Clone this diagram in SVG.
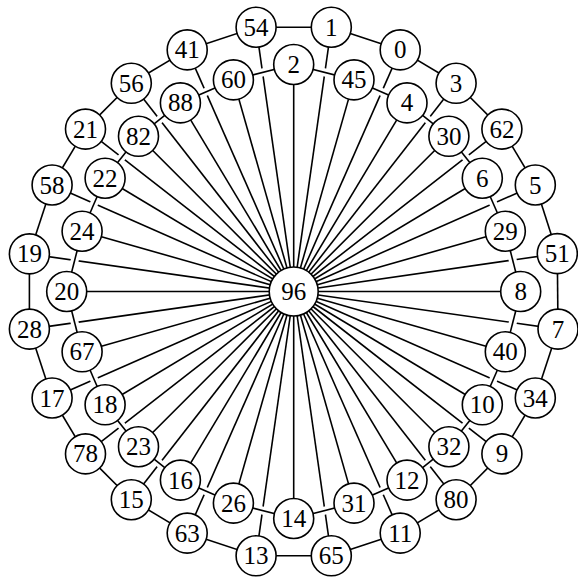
<svg xmlns="http://www.w3.org/2000/svg" width="578" height="577" viewBox="0 0 578 577">
<style>
.e{stroke:#000;stroke-width:1.6;fill:none}
.halo{stroke:#fff;stroke-width:8;fill:none;stroke-linejoin:round}
.n circle{fill:#fff;stroke:#000;stroke-width:1.6}
.n text{font-family:"Liberation Serif","DejaVu Serif",serif;font-size:25px;text-anchor:middle;fill:#000}
</style>
<rect width="578" height="577" fill="#fff"/>
<g id="connectors">
<g id="spokes">
<line class="e" x1="293.7" y1="291.5" x2="293.7" y2="64.5"/>
<line class="e" x1="293.7" y1="291.5" x2="354.0" y2="79.9"/>
<line class="e" x1="293.7" y1="291.5" x2="407.0" y2="102.9"/>
<line class="e" x1="293.7" y1="291.5" x2="448.9" y2="136.3"/>
<line class="e" x1="293.7" y1="291.5" x2="482.3" y2="178.2"/>
<line class="e" x1="293.7" y1="291.5" x2="505.3" y2="231.2"/>
<line class="e" x1="293.7" y1="291.5" x2="520.7" y2="291.5"/>
<line class="e" x1="293.7" y1="291.5" x2="505.3" y2="351.8"/>
<line class="e" x1="293.7" y1="291.5" x2="482.3" y2="404.8"/>
<line class="e" x1="293.7" y1="291.5" x2="448.9" y2="446.7"/>
<line class="e" x1="293.7" y1="291.5" x2="407.0" y2="480.1"/>
<line class="e" x1="293.7" y1="291.5" x2="354.0" y2="503.1"/>
<line class="e" x1="293.7" y1="291.5" x2="293.7" y2="518.5"/>
<line class="e" x1="293.7" y1="291.5" x2="233.4" y2="503.1"/>
<line class="e" x1="293.7" y1="291.5" x2="180.4" y2="480.1"/>
<line class="e" x1="293.7" y1="291.5" x2="138.5" y2="446.7"/>
<line class="e" x1="293.7" y1="291.5" x2="105.1" y2="404.8"/>
<line class="e" x1="293.7" y1="291.5" x2="82.1" y2="351.8"/>
<line class="e" x1="293.7" y1="291.5" x2="66.7" y2="291.5"/>
<line class="e" x1="293.7" y1="291.5" x2="82.1" y2="231.2"/>
<line class="e" x1="293.7" y1="291.5" x2="105.1" y2="178.2"/>
<line class="e" x1="293.7" y1="291.5" x2="138.5" y2="136.3"/>
<line class="e" x1="293.7" y1="291.5" x2="180.4" y2="102.9"/>
<line class="e" x1="293.7" y1="291.5" x2="233.4" y2="79.9"/>
<line class="e" x1="293.7" y1="291.5" x2="331.3" y2="27.2"/>
<line class="e" x1="293.7" y1="291.5" x2="400.2" y2="49.9"/>
<line class="e" x1="293.7" y1="291.5" x2="456.1" y2="83.3"/>
<line class="e" x1="293.7" y1="291.5" x2="501.9" y2="129.1"/>
<line class="e" x1="293.7" y1="291.5" x2="535.3" y2="185.0"/>
<line class="e" x1="293.7" y1="291.5" x2="557.3" y2="253.6"/>
<line class="e" x1="293.7" y1="291.5" x2="558.0" y2="329.1"/>
<line class="e" x1="293.7" y1="291.5" x2="535.3" y2="398.0"/>
<line class="e" x1="293.7" y1="291.5" x2="501.9" y2="453.9"/>
<line class="e" x1="293.7" y1="291.5" x2="456.1" y2="499.7"/>
<line class="e" x1="293.7" y1="291.5" x2="400.2" y2="533.1"/>
<line class="e" x1="293.7" y1="291.5" x2="331.3" y2="555.8"/>
<line class="e" x1="293.7" y1="291.5" x2="256.1" y2="555.8"/>
<line class="e" x1="293.7" y1="291.5" x2="187.2" y2="533.1"/>
<line class="e" x1="293.7" y1="291.5" x2="131.3" y2="499.7"/>
<line class="e" x1="293.7" y1="291.5" x2="85.5" y2="453.9"/>
<line class="e" x1="293.7" y1="291.5" x2="52.1" y2="398.0"/>
<line class="e" x1="293.7" y1="291.5" x2="29.4" y2="329.1"/>
<line class="e" x1="293.7" y1="291.5" x2="29.4" y2="253.9"/>
<line class="e" x1="293.7" y1="291.5" x2="52.1" y2="185.0"/>
<line class="e" x1="293.7" y1="291.5" x2="85.5" y2="129.1"/>
<line class="e" x1="293.7" y1="291.5" x2="131.3" y2="83.3"/>
<line class="e" x1="293.7" y1="291.5" x2="187.2" y2="49.9"/>
<line class="e" x1="293.7" y1="291.5" x2="256.1" y2="27.2"/>
</g>
<polygon class="halo" points="293.7,64.5 354.0,79.9 407.0,102.9 448.9,136.3 482.3,178.2 505.3,231.2 520.7,291.5 505.3,351.8 482.3,404.8 448.9,446.7 407.0,480.1 354.0,503.1 293.7,518.5 233.4,503.1 180.4,480.1 138.5,446.7 105.1,404.8 82.1,351.8 66.7,291.5 82.1,231.2 105.1,178.2 138.5,136.3 180.4,102.9 233.4,79.9"/>
<g id="inner-ring">
<line class="e" x1="293.7" y1="64.5" x2="354.0" y2="79.9"/>
<line class="e" x1="354.0" y1="79.9" x2="407.0" y2="102.9"/>
<line class="e" x1="407.0" y1="102.9" x2="448.9" y2="136.3"/>
<line class="e" x1="448.9" y1="136.3" x2="482.3" y2="178.2"/>
<line class="e" x1="482.3" y1="178.2" x2="505.3" y2="231.2"/>
<line class="e" x1="505.3" y1="231.2" x2="520.7" y2="291.5"/>
<line class="e" x1="520.7" y1="291.5" x2="505.3" y2="351.8"/>
<line class="e" x1="505.3" y1="351.8" x2="482.3" y2="404.8"/>
<line class="e" x1="482.3" y1="404.8" x2="448.9" y2="446.7"/>
<line class="e" x1="448.9" y1="446.7" x2="407.0" y2="480.1"/>
<line class="e" x1="407.0" y1="480.1" x2="354.0" y2="503.1"/>
<line class="e" x1="354.0" y1="503.1" x2="293.7" y2="518.5"/>
<line class="e" x1="293.7" y1="518.5" x2="233.4" y2="503.1"/>
<line class="e" x1="233.4" y1="503.1" x2="180.4" y2="480.1"/>
<line class="e" x1="180.4" y1="480.1" x2="138.5" y2="446.7"/>
<line class="e" x1="138.5" y1="446.7" x2="105.1" y2="404.8"/>
<line class="e" x1="105.1" y1="404.8" x2="82.1" y2="351.8"/>
<line class="e" x1="82.1" y1="351.8" x2="66.7" y2="291.5"/>
<line class="e" x1="66.7" y1="291.5" x2="82.1" y2="231.2"/>
<line class="e" x1="82.1" y1="231.2" x2="105.1" y2="178.2"/>
<line class="e" x1="105.1" y1="178.2" x2="138.5" y2="136.3"/>
<line class="e" x1="138.5" y1="136.3" x2="180.4" y2="102.9"/>
<line class="e" x1="180.4" y1="102.9" x2="233.4" y2="79.9"/>
<line class="e" x1="233.4" y1="79.9" x2="293.7" y2="64.5"/>
</g>
<g id="outer-ring">
<line class="e" x1="331.3" y1="27.2" x2="400.2" y2="49.9"/>
<line class="e" x1="400.2" y1="49.9" x2="456.1" y2="83.3"/>
<line class="e" x1="456.1" y1="83.3" x2="501.9" y2="129.1"/>
<line class="e" x1="501.9" y1="129.1" x2="535.3" y2="185.0"/>
<line class="e" x1="535.3" y1="185.0" x2="557.3" y2="253.6"/>
<line class="e" x1="557.3" y1="253.6" x2="558.0" y2="329.1"/>
<line class="e" x1="558.0" y1="329.1" x2="535.3" y2="398.0"/>
<line class="e" x1="535.3" y1="398.0" x2="501.9" y2="453.9"/>
<line class="e" x1="501.9" y1="453.9" x2="456.1" y2="499.7"/>
<line class="e" x1="456.1" y1="499.7" x2="400.2" y2="533.1"/>
<line class="e" x1="400.2" y1="533.1" x2="331.3" y2="555.8"/>
<line class="e" x1="331.3" y1="555.8" x2="256.1" y2="555.8"/>
<line class="e" x1="256.1" y1="555.8" x2="187.2" y2="533.1"/>
<line class="e" x1="187.2" y1="533.1" x2="131.3" y2="499.7"/>
<line class="e" x1="131.3" y1="499.7" x2="85.5" y2="453.9"/>
<line class="e" x1="85.5" y1="453.9" x2="52.1" y2="398.0"/>
<line class="e" x1="52.1" y1="398.0" x2="29.4" y2="329.1"/>
<line class="e" x1="29.4" y1="329.1" x2="29.4" y2="253.9"/>
<line class="e" x1="29.4" y1="253.9" x2="52.1" y2="185.0"/>
<line class="e" x1="52.1" y1="185.0" x2="85.5" y2="129.1"/>
<line class="e" x1="85.5" y1="129.1" x2="131.3" y2="83.3"/>
<line class="e" x1="131.3" y1="83.3" x2="187.2" y2="49.9"/>
<line class="e" x1="187.2" y1="49.9" x2="256.1" y2="27.2"/>
<line class="e" x1="256.1" y1="27.2" x2="331.3" y2="27.2"/>
</g>
</g>
<g id="nodes">
<g id="n96" class="n"><circle cx="293.7" cy="291.5" r="24.5"/><text x="293.7" y="300">96</text></g>
<g id="n2" class="n"><circle cx="293.7" cy="64.5" r="20"/><text x="293.7" y="73">2</text></g>
<g id="n45" class="n"><circle cx="354.0" cy="79.9" r="20"/><text x="354.0" y="88.4">45</text></g>
<g id="n4" class="n"><circle cx="407.0" cy="102.9" r="20"/><text x="407.0" y="111.4">4</text></g>
<g id="n30" class="n"><circle cx="448.9" cy="136.3" r="20"/><text x="448.9" y="144.8">30</text></g>
<g id="n6" class="n"><circle cx="482.3" cy="178.2" r="20"/><text x="482.3" y="186.7">6</text></g>
<g id="n29" class="n"><circle cx="505.3" cy="231.2" r="20"/><text x="505.3" y="239.7">29</text></g>
<g id="n8" class="n"><circle cx="520.7" cy="291.5" r="20"/><text x="520.7" y="300">8</text></g>
<g id="n40" class="n"><circle cx="505.3" cy="351.8" r="20"/><text x="505.3" y="360.3">40</text></g>
<g id="n10" class="n"><circle cx="482.3" cy="404.8" r="20"/><text x="482.3" y="413.3">10</text></g>
<g id="n32" class="n"><circle cx="448.9" cy="446.7" r="20"/><text x="448.9" y="455.2">32</text></g>
<g id="n12" class="n"><circle cx="407.0" cy="480.1" r="20"/><text x="407.0" y="488.6">12</text></g>
<g id="n31" class="n"><circle cx="354.0" cy="503.1" r="20"/><text x="354.0" y="511.6">31</text></g>
<g id="n14" class="n"><circle cx="293.7" cy="518.5" r="20"/><text x="293.7" y="527">14</text></g>
<g id="n26" class="n"><circle cx="233.4" cy="503.1" r="20"/><text x="233.4" y="511.6">26</text></g>
<g id="n16" class="n"><circle cx="180.4" cy="480.1" r="20"/><text x="180.4" y="488.6">16</text></g>
<g id="n23" class="n"><circle cx="138.5" cy="446.7" r="20"/><text x="138.5" y="455.2">23</text></g>
<g id="n18" class="n"><circle cx="105.1" cy="404.8" r="20"/><text x="105.1" y="413.3">18</text></g>
<g id="n67" class="n"><circle cx="82.1" cy="351.8" r="20"/><text x="82.1" y="360.3">67</text></g>
<g id="n20" class="n"><circle cx="66.7" cy="291.5" r="20"/><text x="66.7" y="300">20</text></g>
<g id="n24" class="n"><circle cx="82.1" cy="231.2" r="20"/><text x="82.1" y="239.7">24</text></g>
<g id="n22" class="n"><circle cx="105.1" cy="178.2" r="20"/><text x="105.1" y="186.7">22</text></g>
<g id="n82" class="n"><circle cx="138.5" cy="136.3" r="20"/><text x="138.5" y="144.8">82</text></g>
<g id="n88" class="n"><circle cx="180.4" cy="102.9" r="20"/><text x="180.4" y="111.4">88</text></g>
<g id="n60" class="n"><circle cx="233.4" cy="79.9" r="20"/><text x="233.4" y="88.4">60</text></g>
<g id="n1" class="n"><circle cx="331.3" cy="27.2" r="20"/><text x="331.3" y="35.7">1</text></g>
<g id="n0" class="n"><circle cx="400.2" cy="49.9" r="20"/><text x="400.2" y="58.4">0</text></g>
<g id="n3" class="n"><circle cx="456.1" cy="83.3" r="20"/><text x="456.1" y="91.8">3</text></g>
<g id="n62" class="n"><circle cx="501.9" cy="129.1" r="20"/><text x="501.9" y="137.6">62</text></g>
<g id="n5" class="n"><circle cx="535.3" cy="185.0" r="20"/><text x="535.3" y="193.5">5</text></g>
<g id="n51" class="n"><circle cx="557.3" cy="253.6" r="20"/><text x="557.3" y="262.1">51</text></g>
<g id="n7" class="n"><circle cx="558.0" cy="329.1" r="20"/><text x="558.0" y="337.6">7</text></g>
<g id="n34" class="n"><circle cx="535.3" cy="398.0" r="20"/><text x="535.3" y="406.5">34</text></g>
<g id="n9" class="n"><circle cx="501.9" cy="453.9" r="20"/><text x="501.9" y="462.4">9</text></g>
<g id="n80" class="n"><circle cx="456.1" cy="499.7" r="20"/><text x="456.1" y="508.2">80</text></g>
<g id="n11" class="n"><circle cx="400.2" cy="533.1" r="20"/><text x="400.2" y="541.6">11</text></g>
<g id="n65" class="n"><circle cx="331.3" cy="555.8" r="20"/><text x="331.3" y="564.3">65</text></g>
<g id="n13" class="n"><circle cx="256.1" cy="555.8" r="20"/><text x="256.1" y="564.3">13</text></g>
<g id="n63" class="n"><circle cx="187.2" cy="533.1" r="20"/><text x="187.2" y="541.6">63</text></g>
<g id="n15" class="n"><circle cx="131.3" cy="499.7" r="20"/><text x="131.3" y="508.2">15</text></g>
<g id="n78" class="n"><circle cx="85.5" cy="453.9" r="20"/><text x="85.5" y="462.4">78</text></g>
<g id="n17" class="n"><circle cx="52.1" cy="398.0" r="20"/><text x="52.1" y="406.5">17</text></g>
<g id="n28" class="n"><circle cx="29.4" cy="329.1" r="20"/><text x="29.4" y="337.6">28</text></g>
<g id="n19" class="n"><circle cx="29.4" cy="253.9" r="20"/><text x="29.4" y="262.4">19</text></g>
<g id="n58" class="n"><circle cx="52.1" cy="185.0" r="20"/><text x="52.1" y="193.5">58</text></g>
<g id="n21" class="n"><circle cx="85.5" cy="129.1" r="20"/><text x="85.5" y="137.6">21</text></g>
<g id="n56" class="n"><circle cx="131.3" cy="83.3" r="20"/><text x="131.3" y="91.8">56</text></g>
<g id="n41" class="n"><circle cx="187.2" cy="49.9" r="20"/><text x="187.2" y="58.4">41</text></g>
<g id="n54" class="n"><circle cx="256.1" cy="27.2" r="20"/><text x="256.1" y="35.7">54</text></g>
</g>
</svg>
